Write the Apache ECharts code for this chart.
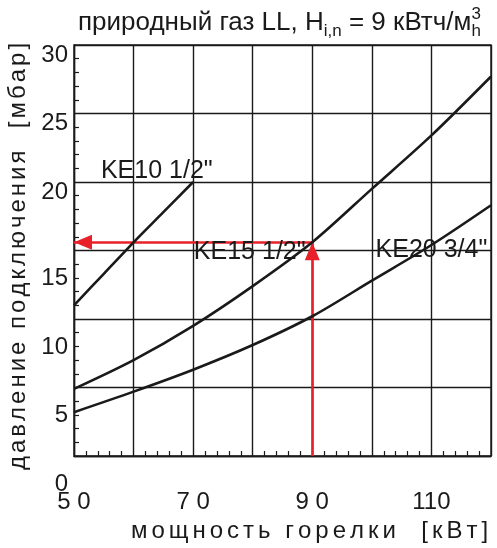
<!DOCTYPE html>
<html>
<head>
<meta charset="utf-8">
<script src="https://cdn.jsdelivr.net/npm/echarts@6/dist/echarts.min.js"></script>
<style>
    html, body { margin: 0; padding: 0; background: #fff; }
    #chart { width: 497px; height: 548px; }
</style>
</head>
<body>
<div id="chart"></div>
<script>
// мощность горелки [кВт]
var ke10Power = [50, 55, 60, 65, 70];
var ke10Pressure = [11.0, 13.3, 15.6, 17.8, 20.0];
var kePower = [50, 60, 70, 80, 90, 100, 110, 120];
var ke15Pressure = [4.9, 7.0, 9.5, 12.4, 15.6, 19.5, 23.4, 27.7];
var ke20Pressure = [3.2, 4.7, 6.3, 8.1, 10.2, 12.8, 15.4, 18.3];

// рабочая точка (стрелки)
var workPoint = [90, 15.6];

var xTickLabels = {50: '5 0', 70: '7 0', 90: '9 0', 110: '110'};
var curveNames = ['KE10 1/2"', 'KE15 1/2"', 'KE20 3/4"'];
var curveLabelAt = [[63.9, 20.8], [79.5, 14.9], [110, 15.0]];

var font = '"Liberation Sans", Arial, sans-serif';
var ink = '#1a1a1a';
var red = '#e8202a';
// наконечник: остриё в центре символа (пустая точка сверху расширяет рамку)
var arrowHead = 'path://M0,-18 M0,0 L7.5,18 L-7.5,18 Z';

function pairs(xs, ys) {
    var out = [];
    for (var i = 0; i < xs.length; i++) {
        out.push([xs[i], ys[i]]);
    }
    return out;
}

// разрядка: каждая буква отдельным фрагментом rich
function spaced(str) {
    return str.split('').map(function (c) {
        return '{c|' + c + '}';
    }).join('');
}

function curve(name, xs, ys, labelAt) {
    return {
        name: name,
        type: 'line',
        smooth: 0.3,
        showSymbol: false,
        silent: true,
        z: 5,
        lineStyle: {color: ink, width: 2.6},
        data: pairs(xs, ys),
        markPoint: {
            symbol: 'circle',
            symbolSize: 0,
            silent: true,
            label: {
                show: true,
                formatter: name,
                color: ink,
                fontFamily: font,
                fontSize: 25
            },
            data: [{coord: labelAt}]
        }
    };
}

var chart = echarts.init(document.getElementById('chart'), null, {renderer: 'canvas'});

var option = {
    animation: false,
    title: {
        left: 73,
        top: 1,
        text: '{a|природный газ LL, H}{s|i,n}{a| = 9 кВтч/м}{p|3}{s|h}',
        textStyle: {
            fontWeight: 'normal',
            rich: {
                a: {fontFamily: font, fontSize: 26, fontWeight: 'normal', color: ink, lineHeight: 34, verticalAlign: 'middle'},
                s: {fontFamily: font, fontSize: 17, fontWeight: 'normal', color: ink, lineHeight: 34, verticalAlign: 'bottom'},
                p: {fontFamily: font, fontSize: 17, fontWeight: 'normal', color: ink, lineHeight: 34, verticalAlign: 'top', width: 0}
            }
        }
    },
    grid: {
        left: 74,
        right: 6,
        top: 45,
        bottom: 92,
        show: true,
        borderColor: ink,
        borderWidth: 1.4,
        containLabel: false,
        outerBoundsMode: 'none'
    },
    xAxis: {
        type: 'value',
        min: 50,
        max: 120,
        interval: 10,
        name: spaced('мощность горелки  [кВт]'),
        nameLocation: 'middle',
        nameGap: 60,
        nameTextStyle: {
            padding: [0, 0, 0, 54],
            rich: {
                c: {fontFamily: font, fontSize: 24, color: ink, padding: [0, 2, 0, 2]}
            }
        },
        axisLine: {lineStyle: {color: ink, width: 1.4}},
        axisTick: {show: false, inside: true},
        minorTick: {show: true, splitNumber: 5, length: 5, lineStyle: {color: ink, width: 1.2}},
        axisLabel: {
            fontFamily: font,
            fontSize: 24,
            color: ink,
            margin: 34,
            formatter: function (v) {
                return xTickLabels[v] || '';
            }
        },
        splitLine: {show: true, lineStyle: {color: ink, width: 1.4}}
    },
    yAxis: {
        type: 'value',
        min: 0,
        max: 30,
        interval: 5,
        name: spaced('давление подключения  [мбар]'),
        nameLocation: 'middle',
        nameGap: 44,
        nameTextStyle: {
            padding: [0, 12, 0, 0],
            rich: {
                c: {fontFamily: font, fontSize: 24, color: ink, padding: [0, 1.5, 0, 1.5]}
            }
        },
        axisLine: {show: true, lineStyle: {color: ink, width: 1.4}},
        axisTick: {show: false, inside: true},
        minorTick: {show: true, splitNumber: 5, length: 5, lineStyle: {color: ink, width: 1.2}},
        axisLabel: {
            fontFamily: font,
            fontSize: 24,
            color: ink,
            margin: 6,
            formatter: function (v) {
                return v >= 20 ? '{hi|' + v + '}' : '{lo|' + v + '}';
            },
            rich: {
                hi: {fontFamily: font, fontSize: 24, color: ink, padding: [20, 0, 0, 0]},
                lo: {fontFamily: font, fontSize: 24, color: ink, padding: [56, 0, 0, 0]}
            }
        },
        splitLine: {show: true, lineStyle: {color: ink, width: 1.4}}
    },
    series: [
        curve(curveNames[0], ke10Power, ke10Pressure, curveLabelAt[0]),
        curve(curveNames[1], kePower, ke15Pressure, curveLabelAt[1]),
        curve(curveNames[2], kePower, ke20Pressure, curveLabelAt[2]),
        {
            name: 'arrows',
            type: 'line',
            data: [],
            z: 4,
            markLine: {
                silent: true,
                symbol: ['none', arrowHead],
                symbolSize: [15, 36],
                label: {show: false},
                lineStyle: {color: red, width: 2.6, type: 'solid'},
                data: [
                    [{coord: [workPoint[0], 0]}, {coord: workPoint}],
                    [{coord: workPoint}, {coord: [50, workPoint[1]]}]
                ]
            }
        }
    ]
};

chart.setOption(option);
</script>
</body>
</html>
